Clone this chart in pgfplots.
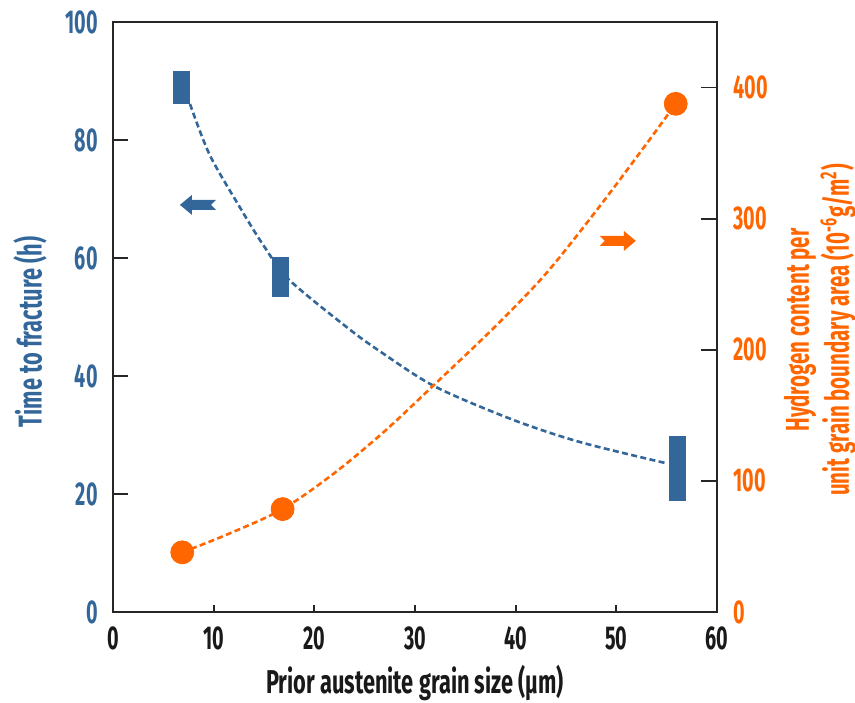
\documentclass[border=0pt]{standalone}
\usepackage{fontspec}
\setmainfont{Fira Sans}[FakeStretch=0.6]
\newfontfamily\labelfamily{Fira Sans}[FakeStretch=0.66]
\newfontfamily\rlabelfamily{Fira Sans}[FakeStretch=0.62]
\usepackage{pgfplots}
\pgfplotsset{compat=1.18}

\definecolor{steelblue}{HTML}{336699}
\definecolor{hydorange}{HTML}{FF6600}
\colorlet{framegray}{black!85}

\newcommand{\chartfont}{\fontsize{16.5}{18}\selectfont\bfseries}
\newcommand{\labelfont}{\labelfamily\fontsize{16.5}{18}\selectfont\bfseries}
\newcommand{\rlabelfont}{\rlabelfamily\fontsize{16.5}{20}\selectfont\bfseries}

\begin{document}
\begin{tikzpicture}
\pgfplotsset{
  twinaxis/.style={
    scale only axis, width=302pt, height=295pt,
    at={(0,0)}, anchor=south west,
    xmin=0, xmax=60,
    /pgf/number format/assume math mode=true,
    tick align=inside,
    ticklabel style={font=\chartfont, inner sep=0pt},
    axis line style={line width=0.9pt, framegray},
    every tick/.style={line width=0.9pt, framegray},
  },
  dashline/.style={line width=1.3pt, dash pattern=on 3pt off 1.7pt},
}

% Left axis: time to fracture
\begin{axis}[twinaxis,
  ymin=0, ymax=100,
  xtick={0,10,...,60}, ytick={0,20,...,100},
  xtick pos=bottom, ytick pos=left,
  xtick style={/pgfplots/major tick length=3.5pt},
  ytick style={/pgfplots/major tick length=7.5pt},
  yticklabel style={text=steelblue, anchor=east, xshift=-7.5pt},
  xticklabel style={text=black!90, anchor=center, yshift=-13pt},
  xlabel={Prior austenite grain size (µm)},
  xlabel style={font=\labelfont, at={(axis description cs:0.5,-0.121)}, anchor=center, text=black!90},
  ylabel={Time to fracture (h)},
  ylabel style={font=\labelfont, at={(axis description cs:-0.1374,0.4746)}, anchor=center, text=steelblue},
]
\addplot[steelblue, dashline, smooth] coordinates {
  (7.65,86.1) (9.6,77.5) (12.6,68.6) (15.0,62.0) (17.5,56.3) (23.2,48.3)
  (26.5,44.2) (32.0,38.2) (39.7,32.6) (46.4,28.8) (55.0,25.2)
};
% measured range of time to fracture at each grain size
\addplot[only marks, mark size=0pt, mark options={draw=none, fill=none},
  error bars/.cd, y dir=both, y explicit, error mark=none,
  error bar style={line width=8.5pt, draw=steelblue}]
  coordinates {
  (6.85,88.9) +- (0,2.8)
  (16.6,56.8) +- (0,3.4)
  (56.1,24.3) +- (0,5.5)
};
% direction arrows pointing to the relevant scale
\fill[steelblue, shift={(axis cs:8.44,69.0)}]
  (-9pt,0pt) -- (-3pt,5pt) -- (-3pt,2.5pt) -- (9pt,2.5pt) -- (6.5pt,0pt)
  -- (9pt,-2.5pt) -- (-3pt,-2.5pt) -- (-3pt,-5pt) -- cycle;
\fill[hydorange, shift={(axis cs:50.15,62.9)}]
  (9pt,0pt) -- (3pt,5pt) -- (3pt,2.5pt) -- (-9pt,2.5pt) -- (-6.5pt,0pt)
  -- (-9pt,-2.5pt) -- (3pt,-2.5pt) -- (3pt,-5pt) -- cycle;
\end{axis}

% Right axis: hydrogen content per unit grain boundary area
\begin{axis}[twinaxis,
  ymin=0, ymax=450,
  axis x line=none, axis y line*=right,
  ytick={0,100,...,400},
  ytick style={/pgfplots/major tick length=8pt},
  yticklabel style={text=hydorange, anchor=west, xshift=8pt},
  ylabel={Hydrogen content per\\unit grain boundary area (10\textsuperscript{-6}g/m\textsuperscript{2})},
  ylabel style={font=\rlabelfont, at={(axis description cs:1.1705,0.478)}, anchor=center,
    align=center, text=hydorange},
]
\addplot[hydorange, dashline, smooth] coordinates {
  (6.88,45.5) (11.3,59) (16.85,78.5) (22,106) (27,138) (32,174)
  (38,218) (43,258) (48,306) (52.7,354) (55.9,387.6)
};
\addplot[only marks, mark=*, mark size=5.75pt, hydorange, mark options={draw=hydorange, fill=hydorange}]
  coordinates {(6.88,45.5) (16.85,78.5) (55.9,387.6)};
\end{axis}

\pgfresetboundingbox
\useasboundingbox (-56.5pt,-45pt) rectangle (371pt,306pt);
\end{tikzpicture}
\end{document}
